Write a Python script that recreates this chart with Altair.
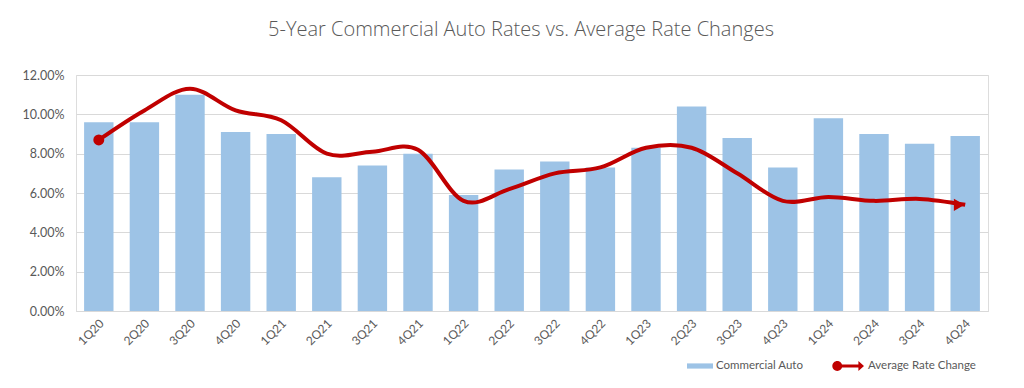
import altair as alt
import pandas as pd

quarters = ["1Q20", "2Q20", "3Q20", "4Q20", "1Q21", "2Q21", "3Q21", "4Q21",
            "1Q22", "2Q22", "3Q22", "4Q22", "1Q23", "2Q23", "3Q23", "4Q23",
            "1Q24", "2Q24", "3Q24", "4Q24"]
commercial_auto = [9.6, 9.6, 11.0, 9.1, 9.0, 6.8, 7.4, 8.0, 5.9, 7.2,
                   7.6, 7.3, 8.3, 10.4, 8.8, 7.3, 9.8, 9.0, 8.5, 8.9]
avg_rate_change = [8.7, 10.2, 11.3, 10.2, 9.7, 8.0, 8.1, 8.2, 5.6, 6.2,
                   7.0, 7.3, 8.3, 8.3, 7.0, 5.6, 5.8, 5.6, 5.7, 5.4]
y_ticks = [0, 0.02, 0.04, 0.06, 0.08, 0.10, 0.12]

df = pd.DataFrame({
    "quarter": quarters,
    "auto": [v / 100 for v in commercial_auto],
    "avg": [v / 100 for v in avg_rate_change],
})

FONT = "Lato"
GREY = "#595959"
RED = "#C00000"
BLUE = "#9DC3E6"

x_axis = alt.Axis(labelAngle=-45, labelAlign="right", labelBaseline="middle",
                  labelPadding=10, labelOffset=3, ticks=False, domainColor="#D9D9D9",
                  labelOverlap=False, labelColor=GREY, labelFont=FONT, labelFontSize=12)
x_scale = alt.Scale(paddingInner=0.355, paddingOuter=0.1775)
y_axis = alt.Axis(format=".2%", values=y_ticks, domain=False, ticks=False, labelOverlap=False,
                  gridColor="#D9D9D9", labelColor=GREY, labelFont=FONT,
                  labelFontSize=12.5, labelPadding=12, tickCount=7)
yscale = alt.Scale(domain=[0, 0.12], nice=False)


def X():
    return alt.X("quarter:N", sort=quarters, title=None, scale=x_scale, axis=x_axis)


def Y(field):
    return alt.Y(field, scale=yscale, title=None, axis=y_axis)


bars = alt.Chart(df).transform_calculate(series="'Commercial Auto'").mark_bar(opacity=1).encode(
    x=X(),
    y=Y("auto:Q"),
    color=alt.Color("series:N", scale=alt.Scale(domain=["Commercial Auto"], range=[BLUE]),
                    legend=alt.Legend(orient="none", legendX=611, legendY=278, title=None,
                                      direction="horizontal", padding=0,
                                      symbolType="M-1,-0.2H1V0.2H-1Z", symbolSize=676,
                                      symbolStrokeWidth=0, labelFont=FONT, labelFontSize=11.5,
                                      labelColor=GREY, labelOffset=3)),
)

line = alt.Chart(df).mark_line(interpolate="cardinal", strokeWidth=4, color=RED).encode(
    x=X(),
    y=Y("avg:Q"),
)

arrow_path = ("M-0.98,0 A0.31,0.31 0 1,1 -0.36,0 A0.31,0.31 0 1,1 -0.98,0 Z "
              "M-0.6,-0.09 L0.65,-0.09 L0.65,-0.31 L1,0 L0.65,0.31 L0.65,0.09 L-0.6,0.09 Z")

start = alt.Chart(df).transform_filter(
    alt.datum.quarter == quarters[0]
).transform_calculate(series="'Average Rate Change'").mark_circle(size=120, opacity=1).encode(
    x=X(),
    y=Y("avg:Q"),
    color=alt.Color("series:N", scale=alt.Scale(domain=["Average Rate Change"], range=[RED]),
                    legend=alt.Legend(orient="none", legendX=756, legendY=275, title=None,
                                      direction="horizontal", padding=0,
                                      symbolType=arrow_path, symbolSize=1024,
                                      symbolStrokeWidth=0, symbolOpacity=1,
                                      labelFont=FONT, labelFontSize=11.5,
                                      labelColor=GREY, labelOffset=4)),
)

end = alt.Chart(df).transform_filter(
    alt.datum.quarter == quarters[-1]
).mark_point(shape="triangle-right", filled=True, size=150, opacity=1, color=RED, xOffset=-6).encode(
    x=X(),
    y=Y("avg:Q"),
)

chart = alt.layer(bars, line, start, end).resolve_scale(color="independent").properties(
    width=912, height=236,
    autosize=alt.AutoSizeParams(type="none"),
    padding={"left": 68, "top": 67, "right": 28, "bottom": 69},
    title=alt.TitleParams("5-Year Commercial Auto Rates vs. Average Rate Changes",
                          font="Open Sans", fontSize=20, fontWeight=300, color=GREY,
                          anchor="middle", offset=29, dx=-11),
).configure_view(stroke=None).configure(background="white")

chart.save("out.html", embed_options={"renderer": "svg", "actions": False})
